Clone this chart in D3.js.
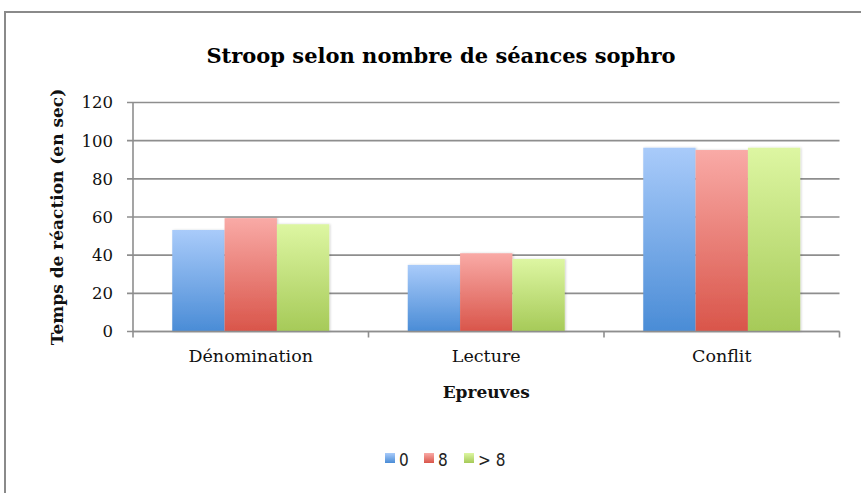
<!DOCTYPE html>
<html>
<head>
<meta charset="utf-8">
<script src="https://cdn.jsdelivr.net/npm/d3@7/dist/d3.min.js"></script>
<style>
  html, body { margin: 0; padding: 0; background: #fff; }
  svg { display: block; }
</style>
</head>
<body>
<div id="chart"></div>
<script>
// Stroop bar chart — grouped bars, Excel-style gradients.
const categories = ['Dénomination', 'Lecture', 'Conflit'];
const seriesNames = ['0', '8', '> 8'];
const values = [
  [53.2, 59.4, 56.2],   // Dénomination
  [34.9, 41.0, 38.0],   // Lecture
  [96.3, 95.1, 96.3],   // Conflit
];
const yTicks = [0, 20, 40, 60, 80, 100, 120];

const W = 861, H = 493;
const margin = { left: 133, right: 861 - 839.5, top: 102.5, bottom: 493 - 331.5 };

const COLORS = [
  { top: '#a9cbfa', bottom: '#4a8cd6' },
  { top: '#f9aaa6', bottom: '#d9554a' },
  { top: '#ddf6a2', bottom: '#a6ca58' },
];
const GRID = '#8e8e8e';
const SERIF = "'DejaVu Serif', 'Liberation Serif', serif";

const svg = d3.select('#chart').append('svg')
  .attr('width', W).attr('height', H);

const defs = svg.append('defs');
COLORS.forEach((c, i) => {
  const g = defs.append('linearGradient').attr('id', 'grad' + i)
    .attr('x1', 0).attr('y1', 0).attr('x2', 0).attr('y2', 1);
  g.append('stop').attr('offset', '0%').attr('stop-color', c.top);
  g.append('stop').attr('offset', '100%').attr('stop-color', c.bottom);
});
const shadow = defs.append('filter').attr('id', 'shadow')
  .attr('x', '-10%').attr('y', '-10%').attr('width', '130%').attr('height', '120%');
shadow.append('feDropShadow').attr('dx', 1).attr('dy', 0).attr('stdDeviation', 1.2)
  .attr('flood-color', '#000').attr('flood-opacity', 0.18);

// outer chart frame (runs off right/bottom like the source screenshot)
svg.append('rect')
  .attr('x', 5).attr('y', 12).attr('width', W + 20).attr('height', H + 20)
  .attr('fill', 'none').attr('stroke', '#8a8a8a').attr('stroke-width', 2);

const x0 = d3.scaleBand().domain(categories)
  .range([margin.left, W - margin.right]).paddingInner(0).paddingOuter(0);
// gap width 150% => bars take 3 / 4.5 of each band
const x1 = d3.scaleBand().domain(d3.range(seriesNames.length))
  .range([0, x0.bandwidth()]).paddingOuter(0.75).paddingInner(0);
const y = d3.scaleLinear().domain([0, 120]).range([H - margin.bottom, margin.top]);

// gridlines
svg.append('g').selectAll('line').data(yTicks).enter().append('line')
  .attr('x1', margin.left - 6).attr('x2', W - margin.right)
  .attr('y1', d => y(d)).attr('y2', d => y(d))
  .attr('stroke', GRID).attr('stroke-width', 1.6);

// y axis line
svg.append('line')
  .attr('x1', margin.left).attr('x2', margin.left)
  .attr('y1', y(120)).attr('y2', y(0))
  .attr('stroke', GRID).attr('stroke-width', 1.6);

// y tick labels
svg.append('g').selectAll('text').data(yTicks).enter().append('text')
  .attr('x', margin.left - 20).attr('y', d => y(d))
  .attr('dy', '0.36em').attr('text-anchor', 'end')
  .attr('font-family', SERIF).attr('font-size', 16.5).attr('fill', '#111')
  .text(d => d);

// bars
const groups = svg.append('g').selectAll('g').data(categories).enter().append('g')
  .attr('transform', d => `translate(${x0(d)},0)`);
groups.selectAll('rect').data((d, i) => values[i].map((v, s) => ({ v, s })))
  .enter().append('rect')
  .attr('x', d => x1(d.s))
  .attr('width', x1.bandwidth())
  .attr('y', d => y(d.v))
  .attr('height', d => y(0) - y(d.v))
  .attr('fill', d => `url(#grad${d.s})`)
  .attr('filter', 'url(#shadow)');

// x axis baseline drawn over bars
svg.append('line')
  .attr('x1', margin.left).attr('x2', W - margin.right)
  .attr('y1', y(0)).attr('y2', y(0))
  .attr('stroke', GRID).attr('stroke-width', 1.6);

// x ticks at category boundaries
const bounds = categories.map(c => x0(c)).concat([x0.range()[1]]);
svg.append('g').selectAll('line').data(bounds).enter().append('line')
  .attr('x1', d => d).attr('x2', d => d)
  .attr('y1', y(0)).attr('y2', y(0) + 6)
  .attr('stroke', GRID).attr('stroke-width', 1.6);

// category labels
svg.append('g').selectAll('text').data(categories).enter().append('text')
  .attr('x', d => x0(d) + x0.bandwidth() / 2).attr('y', y(0) + 30)
  .attr('text-anchor', 'middle')
  .attr('font-family', SERIF).attr('font-size', 17.5).attr('fill', '#111')
  .text(d => d);

// titles
svg.append('text')
  .attr('x', 441).attr('y', 63).attr('text-anchor', 'middle')
  .attr('font-family', SERIF).attr('font-weight', 'bold').attr('font-size', 21)
  .attr('fill', '#000')
  .text('Stroop selon nombre de séances sophro');

svg.append('text')
  .attr('x', (margin.left + W - margin.right) / 2).attr('y', 398)
  .attr('text-anchor', 'middle')
  .attr('font-family', SERIF).attr('font-weight', 'bold').attr('font-size', 17)
  .attr('fill', '#111')
  .text('Epreuves');

svg.append('text')
  .attr('transform', `translate(63,${(y(0) + y(120)) / 2}) rotate(-90)`)
  .attr('text-anchor', 'middle')
  .attr('font-family', SERIF).attr('font-weight', 'bold').attr('font-size', 17)
  .attr('fill', '#111')
  .text('Temps de réaction (en sec)');

// legend
const legendX = [385, 424, 464];
const legend = svg.append('g').selectAll('g').data(seriesNames).enter().append('g')
  .attr('transform', (d, i) => `translate(${legendX[i]},453)`);
legend.append('rect')
  .attr('width', 10).attr('height', 10)
  .attr('fill', (d, i) => `url(#grad${i})`);
legend.append('text')
  .attr('x', 14).attr('y', 13)
  .attr('font-family', "'Liberation Sans Narrow', 'DejaVu Sans Condensed', sans-serif")
  .attr('font-size', 17).attr('fill', '#222')
  .text(d => d);
</script>
</body>
</html>
